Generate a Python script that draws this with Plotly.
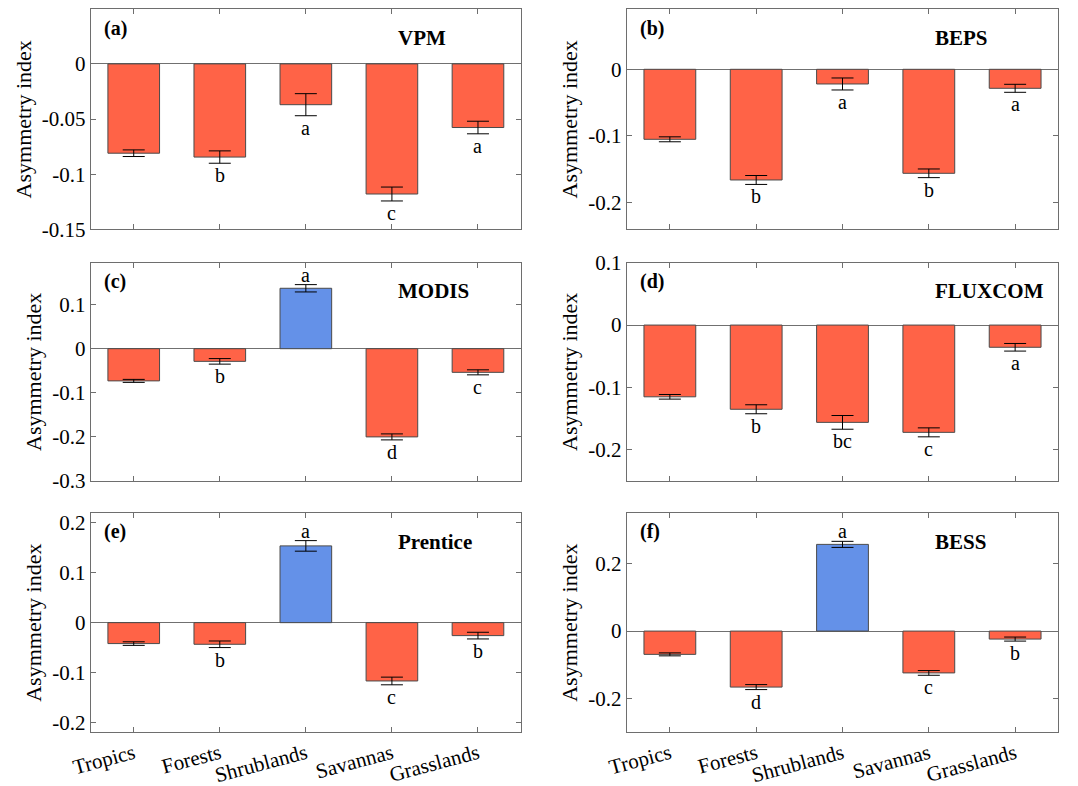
import plotly.graph_objects as go

# ---------------- data ----------------
categories = ["Tropics", "Forests", "Shrublands", "Savannas", "Grasslands"]
models = ["VPM", "BEPS", "MODIS", "FLUXCOM", "Prentice", "BESS"]
panel_labels = ["(a)", "(b)", "(c)", "(d)", "(e)", "(f)"]

vpm_mean = [-0.081, -0.0845, -0.037, -0.118, -0.0577]
vpm_err = [0.003, 0.0056, 0.010, 0.0063, 0.0057]
vpm_letters = ["", "b", "a", "c", "a"]

beps_mean = [-0.105, -0.166, -0.022, -0.156, -0.0285]
beps_err = [0.0037, 0.0067, 0.009, 0.0065, 0.006]
beps_letters = ["", "b", "a", "b", "a"]

modis_mean = [-0.073, -0.0287, 0.137, -0.200, -0.0536]
modis_err = [0.0034, 0.0063, 0.0083, 0.0068, 0.0057]
modis_letters = ["", "b", "a", "d", "c"]

fluxcom_mean = [-0.115, -0.135, -0.156, -0.172, -0.0356]
fluxcom_err = [0.0037, 0.0072, 0.011, 0.0072, 0.0061]
fluxcom_letters = ["", "b", "bc", "c", "a"]

prentice_mean = [-0.042, -0.0434, 0.154, -0.117, -0.026]
prentice_err = [0.0036, 0.0066, 0.0106, 0.0077, 0.0067]
prentice_letters = ["", "b", "a", "c", "b"]

bess_mean = [-0.069, -0.166, 0.257, -0.124, -0.0237]
bess_err = [0.0044, 0.0074, 0.009, 0.007, 0.006]
bess_letters = ["", "d", "a", "c", "b"]

y_ranges = [[-0.15, 0.0495], [-0.24, 0.09], [-0.3, 0.195],
            [-0.25, 0.1], [-0.22, 0.22], [-0.3, 0.35]]
y_ticks = [[-0.15, -0.1, -0.05, 0], [-0.2, -0.1, 0], [-0.3, -0.2, -0.1, 0, 0.1],
           [-0.2, -0.1, 0, 0.1], [-0.2, -0.1, 0, 0.1, 0.2], [-0.2, 0, 0.2]]

means = [vpm_mean, beps_mean, modis_mean, fluxcom_mean, prentice_mean, bess_mean]
errs = [vpm_err, beps_err, modis_err, fluxcom_err, prentice_err, bess_err]
letters = [vpm_letters, beps_letters, modis_letters, fluxcom_letters,
           prentice_letters, bess_letters]

# ---------------- style ----------------
W, H = 1078, 786
FONT = "Liberation Serif, Times New Roman, serif"
RED = "rgb(255,99,71)"
BLUE = "rgb(100,145,232)"
EDGE = "#4a4a4a"
FRAME = "#6e6e6e"

x_domains = [[90.7 / W, 521.0 / W], [626.7 / W, 1058.3 / W]]
row_px = [(9.3, 229.3), (262.7, 481.0), (513.0, 732.3)]
y_domains = [[1 - b / H, 1 - t / H] for (t, b) in row_px]

fig = go.Figure()
annotations = []
layout_axes = {}

for i in range(6):
    r, c = divmod(i, 2)
    n = i + 1
    xa = "x" if n == 1 else f"x{n}"
    ya = "y" if n == 1 else f"y{n}"
    colors = [BLUE if v > 0 else RED for v in means[i]]
    fig.add_trace(go.Bar(
        x=categories, y=means[i], xaxis=xa, yaxis=ya,
        width=0.6,
        marker=dict(color=colors, line=dict(color=EDGE, width=1)),
        error_y=dict(type="data", array=errs[i], color="black",
                     thickness=1, width=11),
        showlegend=False, hoverinfo="x+y",
    ))
    xkey = "xaxis" if n == 1 else f"xaxis{n}"
    ykey = "yaxis" if n == 1 else f"yaxis{n}"
    layout_axes[xkey] = dict(
        domain=x_domains[c], anchor=ya, type="category",
        categoryorder="array", categoryarray=categories,
        range=[-0.5, 4.5], automargin=False,
        showline=True, linecolor=FRAME, linewidth=1, mirror="ticks",
        ticks="inside", ticklen=5, tickcolor=FRAME,
        showgrid=False, zeroline=False,
        showticklabels=(r == 2), tickangle=-15,
        tickfont=dict(family=FONT, size=21, color="black"),
    )
    layout_axes[ykey] = dict(
        domain=y_domains[r], anchor=xa, automargin=False,
        range=y_ranges[i], tickvals=y_ticks[i],
        ticktext=[f"{v:g}" for v in y_ticks[i]],
        showline=True, linecolor=FRAME, linewidth=1, mirror="ticks",
        ticks="inside", ticklen=5, tickcolor=FRAME,
        showgrid=False, zeroline=True, zerolinecolor="#707070",
        zerolinewidth=1,
        tickfont=dict(family=FONT, size=21, color="black"),
        title=dict(text="Asymmetry index", standoff=4,
                   font=dict(family=FONT, size=22, color="black")),
    )
    # panel label and model name
    annotations.append(dict(
        xref=f"{xa} domain", yref=f"{ya} domain", x=0.026, y=1 - 19 / 220,
        xanchor="left", yanchor="middle", showarrow=False,
        text=f"<b>{panel_labels[i]}</b>",
        font=dict(family=FONT, size=20, color="black")))
    annotations.append(dict(
        xref=f"{xa} domain", yref=f"{ya} domain", x=0.71, y=1 - 29 / 220,
        xanchor="left", yanchor="middle", showarrow=False,
        text=f"<b>{models[i]}</b>",
        font=dict(family=FONT, size=21, color="black")))
    # significance letters
    for cat, m, e, L in zip(categories, means[i], errs[i], letters[i]):
        if not L:
            continue
        if m < 0:
            annotations.append(dict(
                xref=xa, yref=ya, x=cat, y=m - e, yanchor="top",
                yshift=1, showarrow=False, text=L,
                font=dict(family=FONT, size=20, color="black")))
        else:
            annotations.append(dict(
                xref=xa, yref=ya, x=cat, y=m + e, yanchor="bottom",
                yshift=-3, showarrow=False, text=L,
                font=dict(family=FONT, size=20, color="black")))

fig.update_layout(
    width=W, height=H,
    margin=dict(l=0, r=0, t=0, b=0, autoexpand=False),
    paper_bgcolor="white", plot_bgcolor="white",
    annotations=annotations,
    bargap=0.4,
    **layout_axes,
)

fig.write_html("out.html")
